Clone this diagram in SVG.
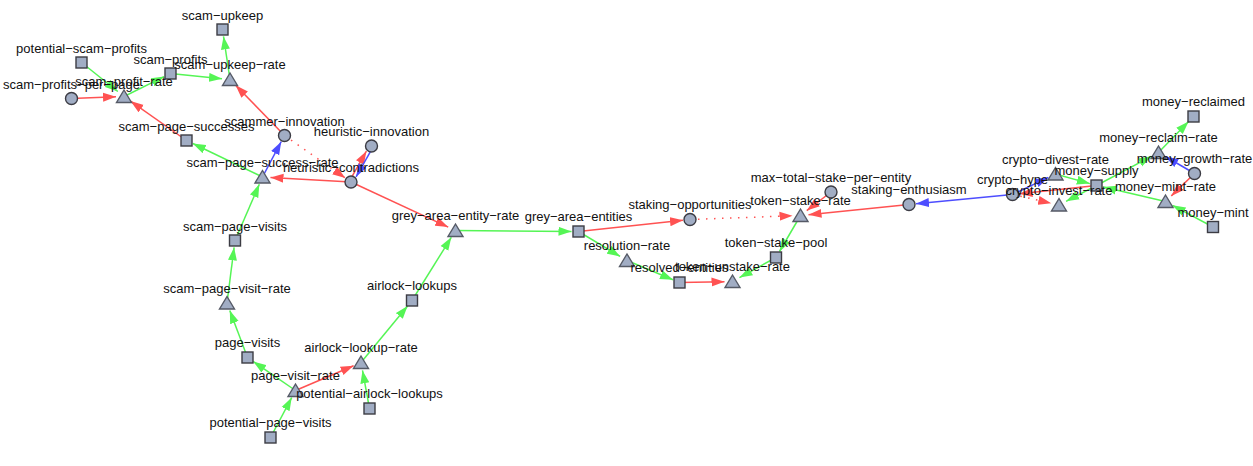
<svg xmlns="http://www.w3.org/2000/svg" width="1253" height="466" viewBox="0 0 1253 466">
<style>
.e{fill:none;stroke-width:1.5}
.g{stroke:#55f555}
.r{stroke:#ff5252}
.b{stroke:#4d4dff}
.d{stroke-dasharray:1.5,6.5}
.n{fill:#a1adc4;stroke:#3c3c44;stroke-width:1.4}
.t{fill:#a1adc4;stroke:#555a66;stroke-width:1.4;stroke-linejoin:miter}
text{font-family:"Liberation Sans",Arial,sans-serif;font-size:13px;fill:#111;text-anchor:middle}
</style>
<defs>
<marker id="ag" markerUnits="userSpaceOnUse" markerWidth="14" markerHeight="10" refX="13" refY="5" orient="auto"><path d="M0,0.5 L13,5 L0,9.5 z" fill="#55f555"/></marker>
<marker id="ar" markerUnits="userSpaceOnUse" markerWidth="14" markerHeight="10" refX="13" refY="5" orient="auto"><path d="M0,0.5 L13,5 L0,9.5 z" fill="#ff5252"/></marker>
<marker id="ab" markerUnits="userSpaceOnUse" markerWidth="14" markerHeight="10" refX="13" refY="5" orient="auto"><path d="M0,0.5 L13,5 L0,9.5 z" fill="#4d4dff"/></marker>
</defs>
<g id="connectors">
<line class="e g" x1="230" y1="79.5" x2="223.5" y2="36.4" marker-end="url(#ag)"/>
<line class="e g" x1="170.5" y1="73.5" x2="222" y2="78.7" marker-end="url(#ag)"/>
<line class="e g" x1="124" y1="96.5" x2="164.2" y2="76.6" marker-end="url(#ag)"/>
<line class="e g" x1="81.5" y1="62.5" x2="117.8" y2="91.5" marker-end="url(#ag)"/>
<line class="e g" x1="262.5" y1="177" x2="192.8" y2="143.5" marker-end="url(#ag)"/>
<line class="e g" x1="235" y1="240.5" x2="259.3" y2="184.3" marker-end="url(#ag)"/>
<line class="e g" x1="227" y1="303" x2="234.1" y2="247.4" marker-end="url(#ag)"/>
<line class="e g" x1="247.5" y1="357.5" x2="229.8" y2="310.5" marker-end="url(#ag)"/>
<line class="e g" x1="295.5" y1="390.5" x2="253.3" y2="361.5" marker-end="url(#ag)"/>
<line class="e g" x1="270.5" y1="437.5" x2="291.7" y2="397.6" marker-end="url(#ag)"/>
<line class="e g" x1="369.5" y1="408.5" x2="362.5" y2="370.4" marker-end="url(#ag)"/>
<line class="e g" x1="361" y1="362.5" x2="407.6" y2="305.9" marker-end="url(#ag)"/>
<line class="e g" x1="412" y1="300.5" x2="451.3" y2="237.3" marker-end="url(#ag)"/>
<line class="e g" x1="455.5" y1="230.5" x2="571.5" y2="231.4" marker-end="url(#ag)"/>
<line class="e g" x1="578.5" y1="231.5" x2="620.1" y2="256.4" marker-end="url(#ag)"/>
<line class="e g" x1="627" y1="260.5" x2="673" y2="279.8" marker-end="url(#ag)"/>
<line class="e g" x1="800.5" y1="215.5" x2="779.5" y2="251.5" marker-end="url(#ag)"/>
<line class="e g" x1="776" y1="257.5" x2="739.5" y2="277.6" marker-end="url(#ag)"/>
<line class="e g" x1="1055.5" y1="174" x2="1089.8" y2="183.6" marker-end="url(#ag)"/>
<line class="e g" x1="1096.5" y1="185.5" x2="1066.1" y2="201.3" marker-end="url(#ag)"/>
<line class="e g" x1="1096.5" y1="185.5" x2="1151.4" y2="156.3" marker-end="url(#ag)"/>
<line class="e g" x1="1158.5" y1="152.5" x2="1188.6" y2="121.5" marker-end="url(#ag)"/>
<line class="e g" x1="1165.5" y1="201.5" x2="1103.3" y2="187.1" marker-end="url(#ag)"/>
<line class="e g" x1="1213" y1="227" x2="1172.5" y2="205.3" marker-end="url(#ag)"/>
<line class="e r" x1="71.5" y1="98.5" x2="116" y2="96.8" marker-end="url(#ar)"/>
<line class="e r" x1="186.5" y1="140.5" x2="130.5" y2="101.1" marker-end="url(#ar)"/>
<line class="e r" x1="284.5" y1="135.5" x2="235.6" y2="85.2" marker-end="url(#ar)"/>
<line class="e r d" x1="284.5" y1="135.5" x2="345.3" y2="178" marker-end="url(#ar)"/>
<line class="e r" x1="351" y1="182" x2="270.5" y2="177.5" marker-end="url(#ar)"/>
<line class="e r" x1="349.4" y1="181.1" x2="366.4" y2="151.2" marker-end="url(#ar)"/>
<line class="e r" x1="351" y1="182" x2="448.2" y2="227.1" marker-end="url(#ar)"/>
<line class="e r" x1="295.5" y1="390.5" x2="353.6" y2="365.7" marker-end="url(#ar)"/>
<line class="e r" x1="578.5" y1="231.5" x2="683" y2="220.3" marker-end="url(#ar)"/>
<line class="e r d" x1="690" y1="219.5" x2="792.5" y2="215.8" marker-end="url(#ar)"/>
<line class="e r" x1="679.5" y1="282.5" x2="724.5" y2="281.7" marker-end="url(#ar)"/>
<line class="e r" x1="909" y1="204.5" x2="808.5" y2="214.7" marker-end="url(#ar)"/>
<line class="e r" x1="831" y1="192" x2="806.8" y2="210.6" marker-end="url(#ar)"/>
<line class="e r" x1="1096.5" y1="185.5" x2="1019.5" y2="193.8" marker-end="url(#ar)"/>
<line class="e r d" x1="1012.5" y1="194.5" x2="1051.2" y2="203.2" marker-end="url(#ar)"/>
<line class="e r" x1="1194.5" y1="173.5" x2="1171.3" y2="195.9" marker-end="url(#ar)"/>
<line class="e b" x1="262.5" y1="177" x2="281.2" y2="141.7" marker-end="url(#ab)"/>
<line class="e b" x1="373.1" y1="146.9" x2="356.1" y2="176.8" marker-end="url(#ab)"/>
<line class="e b" x1="1012.5" y1="194.5" x2="916" y2="203.8" marker-end="url(#ab)"/>
<line class="e b" x1="1012.5" y1="194.5" x2="1048.3" y2="177.4" marker-end="url(#ab)"/>
<line class="e b" x1="1194.5" y1="173.5" x2="1165.4" y2="156.5" marker-end="url(#ab)"/>
</g>
<g id="scam-upkeep"><rect class="n" x="217" y="24" width="11" height="11"/><text x="222.5" y="19.5">scam−upkeep</text></g>
<g id="potential-scam-profits"><rect class="n" x="76" y="57" width="11" height="11"/><text x="81.5" y="52.5">potential−scam−profits</text></g>
<g id="scam-profits"><rect class="n" x="165" y="68" width="11" height="11"/><text x="170.5" y="63.5">scam−profits</text></g>
<g id="scam-upkeep-rate"><polygon class="t" points="230,73 237.5,85.5 222.5,85.5"/><text x="230" y="69">scam−upkeep−rate</text></g>
<g id="scam-profits-per-page"><circle class="n" cx="71.5" cy="98.5" r="6"/><text x="71.5" y="88.5">scam−profits−per−page</text></g>
<g id="scam-profit-rate"><polygon class="t" points="124,90 131.5,102.5 116.5,102.5"/><text x="124" y="86">scam−profit−rate</text></g>
<g id="scam-page-successes"><rect class="n" x="181" y="135" width="11" height="11"/><text x="186.5" y="130.5">scam−page−successes</text></g>
<g id="scammer-innovation"><circle class="n" cx="284.5" cy="135.5" r="6"/><text x="284.5" y="125.5">scammer−innovation</text></g>
<g id="heuristic-innovation"><circle class="n" cx="371.5" cy="146" r="6"/><text x="371.5" y="136">heuristic−innovation</text></g>
<g id="scam-page-success-rate"><polygon class="t" points="262.5,170.5 270,183 255,183"/><text x="262.5" y="166.5">scam−page−success−rate</text></g>
<g id="heuristic-contradictions"><circle class="n" cx="351" cy="182" r="6"/><text x="351" y="171.5">heuristic−contradictions</text></g>
<g id="grey-area-entity-rate"><polygon class="t" points="455.5,224 463,236.5 448,236.5"/><text x="455.5" y="220">grey−area−entity−rate</text></g>
<g id="grey-area-entities"><rect class="n" x="573" y="226" width="11" height="11"/><text x="578.5" y="221">grey−area−entities</text></g>
<g id="staking-opportunities"><circle class="n" cx="690" cy="219.5" r="6"/><text x="690" y="209">staking−opportunities</text></g>
<g id="resolution-rate"><polygon class="t" points="627,254 634.5,266.5 619.5,266.5"/><text x="627" y="250">resolution−rate</text></g>
<g id="resolved-entities"><rect class="n" x="674" y="277" width="11" height="11"/><text x="679.5" y="272">resolved−entities</text></g>
<g id="token-unstake-rate"><polygon class="t" points="732.5,275 740,287.5 725,287.5"/><text x="732.5" y="271">token−unstake−rate</text></g>
<g id="token-stake-pool"><rect class="n" x="770.5" y="252" width="11" height="11"/><text x="776" y="247">token−stake−pool</text></g>
<g id="token-stake-rate"><polygon class="t" points="800.5,209 808,221.5 793,221.5"/><text x="800.5" y="205">token−stake−rate</text></g>
<g id="max-total-stake-per-entity"><circle class="n" cx="831" cy="192" r="6"/><text x="831" y="181.5">max−total−stake−per−entity</text></g>
<g id="staking-enthusiasm"><circle class="n" cx="909" cy="204.5" r="6"/><text x="909" y="194">staking−enthusiasm</text></g>
<g id="crypto-hype"><circle class="n" cx="1012.5" cy="194.5" r="6"/><text x="1012.5" y="184">crypto−hype</text></g>
<g id="crypto-divest-rate"><polygon class="t" points="1055.5,167.5 1063,180 1048,180"/><text x="1055.5" y="163.5">crypto−divest−rate</text></g>
<g id="money-supply"><rect class="n" x="1091" y="180" width="11" height="11"/><text x="1096.5" y="175">money−supply</text></g>
<g id="crypto-invest-rate"><polygon class="t" points="1059,198.5 1066.5,211 1051.5,211"/><text x="1059" y="194.5">crypto−invest−rate</text></g>
<g id="money-reclaimed"><rect class="n" x="1188" y="111" width="11" height="11"/><text x="1193.5" y="106">money−reclaimed</text></g>
<g id="money-reclaim-rate"><polygon class="t" points="1158.5,146 1166,158.5 1151,158.5"/><text x="1158.5" y="142">money−reclaim−rate</text></g>
<g id="money-growth-rate"><circle class="n" cx="1194.5" cy="173.5" r="6"/><text x="1194.5" y="163">money−growth−rate</text></g>
<g id="money-mint-rate"><polygon class="t" points="1165.5,195 1173,207.5 1158,207.5"/><text x="1165.5" y="191">money−mint−rate</text></g>
<g id="money-mint"><rect class="n" x="1207.5" y="221.5" width="11" height="11"/><text x="1213" y="216.5">money−mint</text></g>
<g id="scam-page-visits"><rect class="n" x="229.5" y="235" width="11" height="11"/><text x="235" y="230.5">scam−page−visits</text></g>
<g id="scam-page-visit-rate"><polygon class="t" points="227,296.5 234.5,309 219.5,309"/><text x="227" y="292.5">scam−page−visit−rate</text></g>
<g id="airlock-lookups"><rect class="n" x="406.5" y="295" width="11" height="11"/><text x="412" y="290">airlock−lookups</text></g>
<g id="page-visits"><rect class="n" x="242" y="352" width="11" height="11"/><text x="247.5" y="347">page−visits</text></g>
<g id="airlock-lookup-rate"><polygon class="t" points="361,356 368.5,368.5 353.5,368.5"/><text x="361" y="352">airlock−lookup−rate</text></g>
<g id="page-visit-rate"><polygon class="t" points="295.5,384 303,396.5 288,396.5"/><text x="295.5" y="380">page−visit−rate</text></g>
<g id="potential-airlock-lookups"><rect class="n" x="364" y="403" width="11" height="11"/><text x="369.5" y="398">potential−airlock−lookups</text></g>
<g id="potential-page-visits"><rect class="n" x="265" y="432" width="11" height="11"/><text x="270.5" y="427">potential−page−visits</text></g>
</svg>
